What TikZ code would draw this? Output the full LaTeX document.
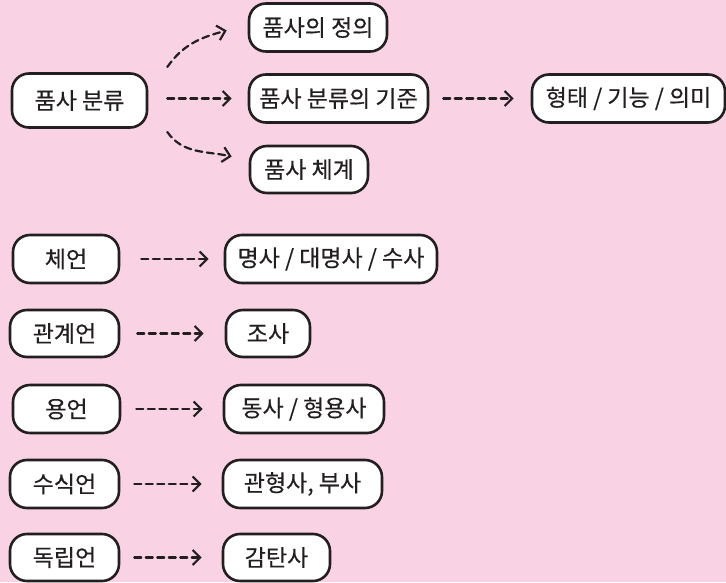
\documentclass[tikz,border=0pt]{standalone}
\usepackage{fontspec}
\setmainfont{Noto Sans CJK KR}[FakeBold=0.4]
\usetikzlibrary{arrows.meta}
\definecolor{bgpink}{RGB}{249,211,227}
\definecolor{ink}{RGB}{35,31,32}
\tikzset{
  box/.style={draw=ink, fill=white, line width=2.6pt, rounded corners=17pt,
    minimum height=48pt, inner sep=0pt, text=ink, font=\fontsize{23}{26}\selectfont},
  arr/.style={draw=ink, line width=2.2pt, dash pattern=on 7pt off 4.5pt,
    -{Straight Barb[length=7.5pt,width=15pt,line width=2.2pt]}, line cap=round},
}
\begin{document}
\begin{tikzpicture}[x=1pt,y=1pt]
\fill[bgpink] (0,0) rectangle (726,582);
\useasboundingbox (0,0) rectangle (726,582);
% top group
\node[box, minimum width=135pt, minimum height=54pt] (root) at (79.5,481.5) {품사 분류};
\node[box, minimum width=138pt] (def) at (318,554.5) {품사의 정의};
\node[box, minimum width=179pt] (crit) at (338.5,483.5) {품사 분류의 기준};
\node[box, minimum width=118pt, minimum height=47pt] (sys) at (309,412.5) {품사 체계};
\node[box, minimum width=193pt] (form) at (628.5,483.5) {형태 / 기능 / 의미};
% rows
\node[box, minimum width=106pt] (a1) at (66,323) {체언};
\node[box, minimum width=212pt] (b1) at (331,323) {명사 / 대명사 / 수사};
\node[box, minimum width=109pt, minimum height=47pt] (a2) at (64.5,248.5) {관계언};
\node[box, minimum width=84pt, minimum height=47pt] (b2) at (268,248.5) {조사};
\node[box, minimum width=107pt] (a3) at (66.5,173) {용언};
\node[box, minimum width=160pt] (b3) at (304,173) {동사 / 형용사};
\node[box, minimum width=109pt] (a4) at (64.5,98) {수식언};
\node[box, minimum width=159pt] (b4) at (302.5,98) {관형사, 부사};
\node[box, minimum width=109pt, minimum height=47pt] (a5) at (64.5,24.5) {독립언};
\node[box, minimum width=107pt, minimum height=47pt] (b5) at (276.5,24.5) {감탄사};
% arrows
\draw[arr] ([shift={(19pt,33.5pt)}]root.east) to[out=55,in=195] ([shift={(-21pt,-3pt)}]def.west);
\draw[arr, shorten <=19pt, shorten >=16pt] (root.east |- crit.west) -- (crit.west);
\draw[arr] ([shift={(19pt,-31.5pt)}]root.east) to[out=-55,in=168] ([shift={(-17pt,13pt)}]sys.west);
\draw[arr, shorten <=14pt, shorten >=17pt] (crit.east) -- (form.west);
\draw[arr, shorten <=21pt, shorten >=15pt] (a1.east) -- (b1.west);
\draw[arr, shorten <=17pt, shorten >=21pt] (a2.east) -- (b2.west);
\draw[arr, shorten <=15pt, shorten >=20pt] (a3.east) -- (b3.west);
\draw[arr, shorten <=14pt, shorten >=20pt] (a4.east) -- (b4.west);
\draw[arr, shorten <=14pt, shorten >=20pt] (a5.east) -- (b5.west);
\end{tikzpicture}
\end{document}
